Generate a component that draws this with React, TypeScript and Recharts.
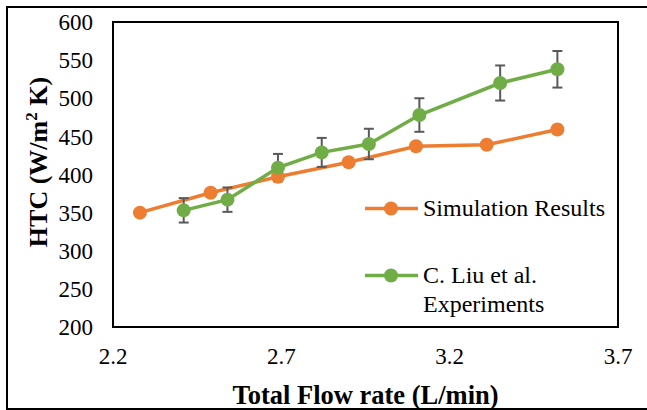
import React from 'react';
import { LineChart, Line, XAxis, YAxis, ErrorBar, Legend, ReferenceArea } from 'recharts';

// values
const simFlow = [2.28, 2.49, 2.69, 2.9, 3.1, 3.31, 3.52];
const simHtc = [350, 376, 397, 416, 437, 439, 459];

const expFlow = [2.41, 2.54, 2.69, 2.82, 2.96, 3.11, 3.35, 3.52];
const expHtc = [353, 367, 409, 429, 440, 478, 520, 538];
const expErr = [16, 16, 18, 19, 20, 22, 23, 24];

const xTicks = [2.2, 2.7, 3.2, 3.7];
const yTicks = [200, 250, 300, 350, 400, 450, 500, 550, 600];

const seriesNames = ['Simulation Results', 'C. Liu et al. Experiments'];

const simData = simFlow.map((flow, i) => ({ flow, htc: simHtc[i] }));
const expData = expFlow.map((flow, i) => ({ flow, htc: expHtc[i], err: expErr[i] }));

const FONT = '"Liberation Serif", "Times New Roman", serif';
const ORANGE = '#ED7D31';
const GREEN = '#70AD47';

const YTitle = () => (
  <text
    x={47}
    y={162}
    transform="rotate(-90, 47, 162)"
    textAnchor="middle"
    fontSize={26}
    fontWeight="bold"
    fill="#000"
    style={{ fontFamily: FONT }}
  >
    HTC (W/m
    <tspan dy={-10} fontSize={17}>2</tspan>
    <tspan dy={10}> K)</tspan>
  </text>
);

const XTitle = ({ viewBox }: any) => (
  <text
    x={viewBox.x + viewBox.width / 2}
    y={viewBox.y + 77}
    textAnchor="middle"
    fontSize={26.5}
    fontWeight="bold"
    fill="#000"
    style={{ fontFamily: FONT }}
  >
    Total Flow rate (L/min)
  </text>
);

const XTick = ({ x, y, payload }: any) => (
  <text x={x} y={y} dy="0.71em" textAnchor="middle" fontSize={23} fill="#000" style={{ fontFamily: FONT }}>
    {Number(payload.value).toFixed(1)}
  </text>
);

const YTick = ({ x, y, payload }: any) => (
  <text x={x} y={y} dy="0.355em" textAnchor="end" fontSize={23} fill="#000" style={{ fontFamily: FONT }}>
    {payload.value}
  </text>
);

const renderLegend = ({ payload }: any) => {
  const items = [...(payload || [])].sort(
    (a: any, b: any) => seriesNames.indexOf(a.value) - seriesNames.indexOf(b.value)
  );
  return (
    <div style={{ fontFamily: FONT, fontSize: 24, color: '#000' }}>
      {items.map((entry: any, i: number) => (
        <div
          key={entry.value}
          style={{ display: 'flex', alignItems: 'flex-start', marginBottom: i === 0 ? 38 : 0 }}
        >
          <svg width={60} height={29} style={{ flex: 'none' }}>
            <line x1={2} y1={14.5} x2={55} y2={14.5} stroke={entry.color} strokeWidth={3.5} />
            <circle cx={28} cy={14.5} r={7} fill={entry.color} />
          </svg>
          <div style={{ width: 194, lineHeight: '29px' }}>{entry.value}</div>
        </div>
      ))}
    </div>
  );
};

export default function App() {
  return (
    <div
      style={{
        position: 'absolute',
        left: 0,
        top: 0,
        width: 647,
        height: 410,
        background: '#fff',
        overflow: 'hidden',
        fontFamily: FONT,
      }}
    >
      <div
        style={{
          position: 'absolute',
          left: 6,
          top: 6,
          width: 660,
          height: 404,
          boxSizing: 'border-box',
          borderTop: '2px solid #000',
          borderLeft: '2px solid #000',
          borderBottom: '2px solid #000',
        }}
      />
      <div style={{ position: 'absolute', left: 0, top: 0 }}>
        <LineChart width={647} height={410} margin={{ top: 22, right: 29, left: 0, bottom: 0 }}>
          <XAxis
            dataKey="flow"
            type="number"
            domain={[2.2, 3.7]}
            ticks={xTicks}
            axisLine={false}
            tickLine={false}
            tickMargin={15}
            height={83}
            allowDataOverflow
            tick={<XTick />}
            label={<XTitle />}
          />
          <YAxis
            type="number"
            domain={[200, 600]}
            ticks={yTicks}
            axisLine={false}
            tickLine={false}
            tickMargin={14}
            width={113}
            allowDataOverflow
            tick={<YTick />}
            label={<YTitle />}
          />
          <ReferenceArea
            x1={2.2}
            x2={3.7}
            y1={200}
            y2={600}
            fill="none"
            stroke="#000"
            strokeWidth={2}
            fillOpacity={0}
          />
          <Legend
            layout="vertical"
            align="center"
            verticalAlign="middle"
            content={renderLegend}
            wrapperStyle={{ position: 'absolute', left: 363, top: 194, width: 260 }}
          />
          <Line
            data={simData}
            dataKey="htc"
            name={seriesNames[0]}
            stroke={ORANGE}
            strokeWidth={3.5}
            dot={{ r: 7, fill: ORANGE, stroke: ORANGE, strokeWidth: 0 }}
            activeDot={false}
            isAnimationActive={false}
          />
          <Line
            data={expData}
            dataKey="htc"
            name={seriesNames[1]}
            stroke={GREEN}
            strokeWidth={3.5}
            dot={{ r: 7, fill: GREEN, stroke: GREEN, strokeWidth: 0 }}
            activeDot={false}
            isAnimationActive={false}
          >
            <ErrorBar
              dataKey="err"
              direction="y"
              width={5}
              stroke="#595959"
              strokeWidth={2}
              isAnimationActive={false}
            />
          </Line>
        </LineChart>
      </div>
    </div>
  );
}
